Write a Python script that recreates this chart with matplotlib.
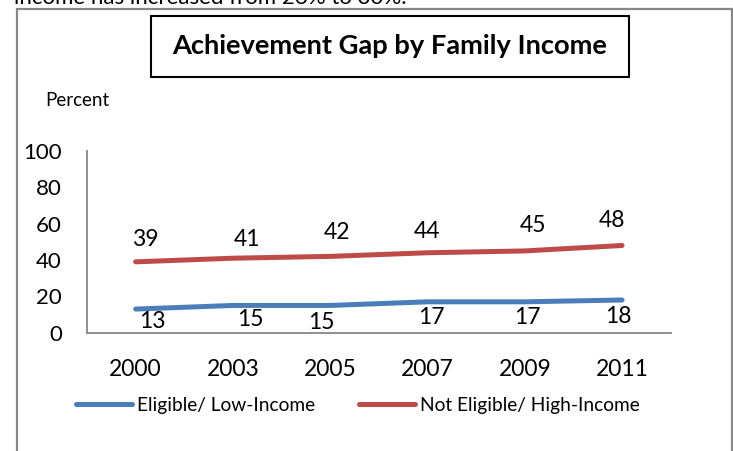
import matplotlib
matplotlib.use("Agg")
import matplotlib.pyplot as plt
from matplotlib.patches import Rectangle

# ---- data ----
years = ["2000", "2003", "2005", "2007", "2009", "2011"]
low_income = [13, 15, 15, 17, 17, 18]
high_income = [39, 41, 42, 44, 45, 48]
series_names = ["Eligible/ Low-Income", "Not Eligible/ High-Income"]
y_ticks = [0, 20, 40, 60, 80, 100]
title = "Achievement Gap by Family Income"
y_label = "Percent"
caption = "income has increased from 26% to 30%."

# label nudges (pixels) for the value labels
high_offsets = [(10, 22), (14, 19), (7, 23.5), (-1, 21), (8, 25), (-10, 25)]
low_offsets = [(17, -12.6), (17, -14.5), (-9, -17.5), (4, -16), (3, -16), (-4, -17)]

BLUE = "#4A7EBB"
RED = "#BE4B48"
GRAY = "#878787"
FONT = "Lato"

W, H = 733, 451
fig = plt.figure(figsize=(W / 100, H / 100), dpi=100)
fig.patch.set_facecolor("white")


def fx(x):
    return x / W


def fy(y):
    return 1 - y / H


# outer chart frame
fig.patches.append(Rectangle((fx(16.7), fy(470)), fx(732) - fx(16.7), fy(9) - fy(470),
                             transform=fig.transFigure, fill=False,
                             edgecolor=GRAY, linewidth=1.6))

# caption line above the chart (partly cut off at the top)
fig.text(fx(14), fy(4), caption, fontsize=16, family=FONT, color="black",
         ha="left", va="baseline")

# title box
fig.patches.append(Rectangle((fx(150.7), fy(76.7)), fx(629.3) - fx(150.7), fy(15.7) - fy(76.7),
                             transform=fig.transFigure, fill=False,
                             edgecolor="black", linewidth=1.5))
fig.text(fx(390), fy(46), title, fontsize=19.6, family=FONT, fontweight="bold",
         ha="center", va="center", color="black")

fig.text(fx(77), fy(100), y_label, fontsize=13.5, family=FONT,
         ha="center", va="center", color="black")

ax = fig.add_axes([fx(87), fy(332.7), fx(670.7) - fx(87), fy(151) - fy(332.7)])
x = list(range(len(years)))
l1, = ax.plot(x, low_income, color=BLUE, linewidth=3.6, solid_capstyle="round")
l2, = ax.plot(x, high_income, color=RED, linewidth=3.6, solid_capstyle="round")

for xi, v, off in zip(x, high_income, high_offsets):
    ax.annotate(str(v), (xi, v), xytext=off, textcoords="offset pixels",
                ha="center", va="center", fontsize=16.5, family=FONT)
for xi, v, off in zip(x, low_income, low_offsets):
    ax.annotate(str(v), (xi, v), xytext=off, textcoords="offset pixels",
                ha="center", va="center", fontsize=16.5, family=FONT)

ax.set_xlim(-0.5, len(years) - 0.5)
ax.set_ylim(0, 100)
ax.set_yticks(y_ticks)
ax.set_xticks(x)
ax.set_xticklabels(years)
for s in ["top", "right"]:
    ax.spines[s].set_visible(False)
for s in ["left", "bottom"]:
    ax.spines[s].set_color(GRAY)
    ax.spines[s].set_linewidth(1.3)
ax.tick_params(axis="both", length=0)
ax.tick_params(axis="y", pad=18, labelsize=16)
ax.tick_params(axis="x", pad=19, labelsize=16.5)
for lab in ax.get_xticklabels() + ax.get_yticklabels():
    lab.set_family(FONT)

leg = fig.legend([l1, l2], series_names, loc="center left",
                 bbox_to_anchor=(fx(76), fy(405)), ncol=2, frameon=False,
                 prop={"family": FONT, "size": 13.8},
                 handlelength=2.9, handletextpad=0.27, columnspacing=2.3,
                 borderaxespad=0, borderpad=0)

fig.savefig("out.png", dpi=100, facecolor="white")
